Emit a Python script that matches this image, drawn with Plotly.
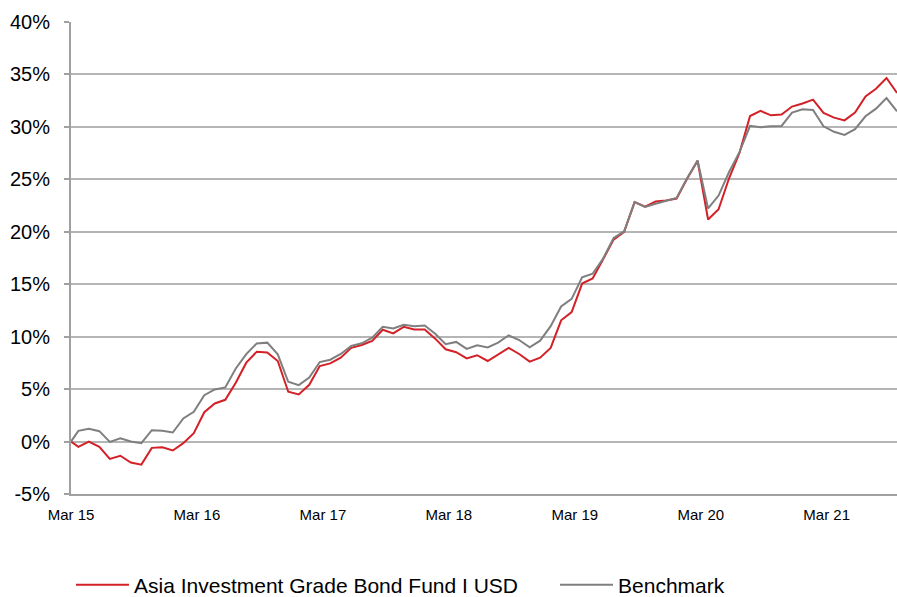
import plotly.graph_objects as go

tick_labels = ["Mar 15", "Mar 16", "Mar 17", "Mar 18", "Mar 19", "Mar 20", "Mar 21"]
tick_months = [0, 12, 24, 36, 48, 60, 72]
y_ticks = [-5, 0, 5, 10, 15, 20, 25, 30, 35, 40]
y_tick_labels = ["-5%", "0%", "5%", "10%", "15%", "20%", "25%", "30%", "35%", "40%"]

# month offsets from Mar 15 (inception point, then monthly observations)
months = [0.0] + [0.7 + k for k in range(79)]

fund = [0.0,
        -0.5, 0.0, -0.5, -1.65, -1.35, -2.0, -2.2, -0.6, -0.55, -0.85,
        -0.15, 0.8, 2.8, 3.63, 3.98, 5.6, 7.52, 8.57, 8.5, 7.68,
        4.75, 4.49, 5.41, 7.2, 7.45, 8.0, 8.93, 9.21, 9.59, 10.66,
        10.31, 10.94, 10.69, 10.69, 9.81, 8.8, 8.52, 7.92, 8.23, 7.68,
        8.32, 8.92, 8.35, 7.62, 8.0, 8.93, 11.56, 12.35, 15.06, 15.55,
        17.38, 19.25, 20.0, 22.83, 22.4, 22.88, 22.98, 23.17, 25.05, 26.77,
        21.17, 22.15, 25.1, 27.55, 31.04, 31.52, 31.1, 31.17, 31.94, 32.23,
        32.6, 31.33, 30.88, 30.62, 31.36, 32.91, 33.64, 34.66, 33.24]

bench = [0.0,
         1.02, 1.21, 0.99, -0.03, 0.32, 0.0, -0.16, 1.08, 1.02, 0.86,
         2.2, 2.83, 4.42, 4.97, 5.16, 6.97, 8.34, 9.36, 9.43, 8.31,
         5.7, 5.38, 6.11, 7.58, 7.8, 8.35, 9.12, 9.37, 9.9, 10.94,
         10.79, 11.13, 11.0, 11.07, 10.28, 9.28, 9.5, 8.84, 9.17, 8.98,
         9.43, 10.13, 9.68, 8.98, 9.62, 11.0, 12.88, 13.6, 15.65, 16.0,
         17.45, 19.4, 20.03, 22.83, 22.37, 22.68, 22.95, 23.23, 25.1, 26.8,
         22.22, 23.45, 25.7, 27.62, 30.1, 29.97, 30.06, 30.09, 31.36, 31.68,
         31.61, 30.06, 29.53, 29.24, 29.78, 31.01, 31.74, 32.75, 31.49]

FONT = "Arial, Liberation Sans, sans-serif"
GRID = "#b5b5b5"
AXIS = "#a0a0a0"
x_range = [0, 78.7]

fig = go.Figure()
fig.add_trace(go.Scatter(x=months, y=fund, mode="lines",
                         name="Asia Investment Grade Bond Fund I USD",
                         line=dict(color="#d42027", width=2), legend="legend"))
fig.add_trace(go.Scatter(x=months, y=bench, mode="lines",
                         name="Benchmark",
                         line=dict(color="#7f7f7f", width=2), legend="legend2"))

legend_common = dict(orientation="h", xanchor="left", y=-0.193, yanchor="middle",
                     font=dict(size=21, family=FONT),
                     bgcolor="rgba(0,0,0,0)", itemwidth=53)

fig.update_layout(
    width=897, height=597,
    margin=dict(l=71, r=0, t=22, b=103, autoexpand=False),
    paper_bgcolor="white", plot_bgcolor="white",
    font=dict(family=FONT, color="#000000"),
    showlegend=True,
    legend=dict(x=0.0, **legend_common),
    legend2=dict(x=0.586, **legend_common),
    xaxis=dict(range=x_range, tickmode="array", tickvals=tick_months, ticktext=tick_labels,
               showgrid=False, zeroline=False, showline=True, linecolor=AXIS, linewidth=2,
               ticks="", tickfont=dict(size=15, family=FONT), ticklabelstandoff=6,
               automargin=False),
    xaxis2=dict(range=x_range, overlaying="x", anchor="free", position=5 / 45,
                tickmode="array", tickvals=tick_months, showticklabels=False,
                showgrid=False, zeroline=False, showline=True, linecolor=AXIS, linewidth=1.5,
                ticks="outside", ticklen=5, tickcolor=AXIS, tickwidth=1.5, automargin=False),
    yaxis=dict(range=[-5, 40], tickmode="array", tickvals=y_ticks, ticktext=y_tick_labels,
               showgrid=True, gridcolor=GRID, gridwidth=1.5, zeroline=False,
               showline=True, linecolor=AXIS, linewidth=2,
               ticks="outside", ticklen=5, tickcolor=AXIS, tickwidth=1.5,
               tickfont=dict(size=20, family=FONT), ticklabelstandoff=10,
               automargin=False),
)

fig.write_html("out.html", config={"displayModeBar": False},
               post_script="document.body.style.margin='0';")
